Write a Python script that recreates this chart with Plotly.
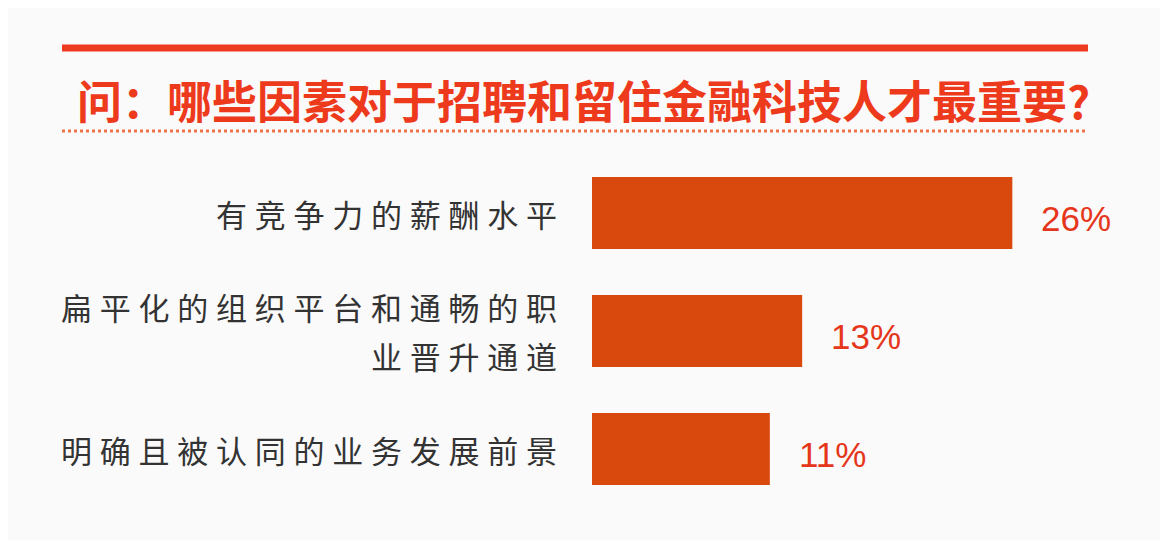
import plotly.graph_objects as go

# 数据
categories = ["有竞争力的薪酬水平", "扁平化的组织平台和通畅的职<br>业晋升通道", "明确且被认同的业务发展前景"]
values = [26, 13, 11]
value_labels = ["26%", "13%", "11%"]
title_text = "问：哪些因素对于招聘和留住金融科技人才最重要?"

W, H = 1168, 540
OFF = 8  # 页面 body 的默认边距
# 绘图区在屏幕上的位置: x 592..1077, y 154..508
L, T = 592 - OFF, 154 - OFF
R, B = W - (1077 - OFF), H - (508 - OFF)
LINE_PITCH = 49  # 分类标签的行距


def px(x):
    # 屏幕像素 -> paper 坐标
    return (x - OFF - L) / (W - L - R)


def py(y):
    return (H - B - (y - OFF)) / (H - T - B)


def spaced(s, gap="\u2005"):
    return gap.join(s)


fig = go.Figure(go.Bar(
    x=values, y=categories, orientation="h",
    marker=dict(color="#d9490e", line=dict(width=0)),
    width=0.61,
))

# 分类标签：每行单独一个注释，便于控制行距
for c in categories:
    lines = c.split("<br>")
    n = len(lines)
    for j, line in enumerate(lines):
        fig.add_annotation(x=0, y=c, text=spaced(line), showarrow=False,
                           xanchor="right", yanchor="middle",
                           xshift=-33, yshift=((n - 1) / 2 - j) * LINE_PITCH,
                           font=dict(family="Noto Sans CJK SC", size=31, color="#333333"))

for v, c, t in zip(values, categories, value_labels):
    fig.add_annotation(x=v, y=c, text=t, showarrow=False, xanchor="left",
                       xshift=27, yshift=-5,
                       font=dict(family="Liberation Sans", size=35, color="#e5361b"))

fig.add_annotation(xref="paper", yref="paper", x=px(583), y=py(99),
                   text="<b>" + title_text + "</b>", showarrow=False,
                   xanchor="center", yanchor="middle",
                   font=dict(family="Noto Sans CJK SC", size=45, color="#ee3a1c"))

fig.add_shape(type="line", xref="paper", yref="paper",
              x0=px(62), x1=px(1088), y0=py(48), y1=py(48),
              line=dict(color="#ee3b1f", width=7))
fig.add_shape(type="line", xref="paper", yref="paper",
              x0=px(62), x1=px(1086), y0=py(131), y1=py(131),
              line=dict(color="#f07345", width=3, dash="dot"))

fig.update_layout(
    width=W, height=H,
    margin=dict(l=L, r=R, t=T, b=B),
    paper_bgcolor="#fafafa", plot_bgcolor="#fafafa",
    showlegend=False,
    xaxis=dict(range=[0, 30], visible=False),
    yaxis=dict(range=[2.5, -0.5], showticklabels=False, ticks="",
               showline=False, showgrid=False, zeroline=False),
)

fig.write_html("out.html")
